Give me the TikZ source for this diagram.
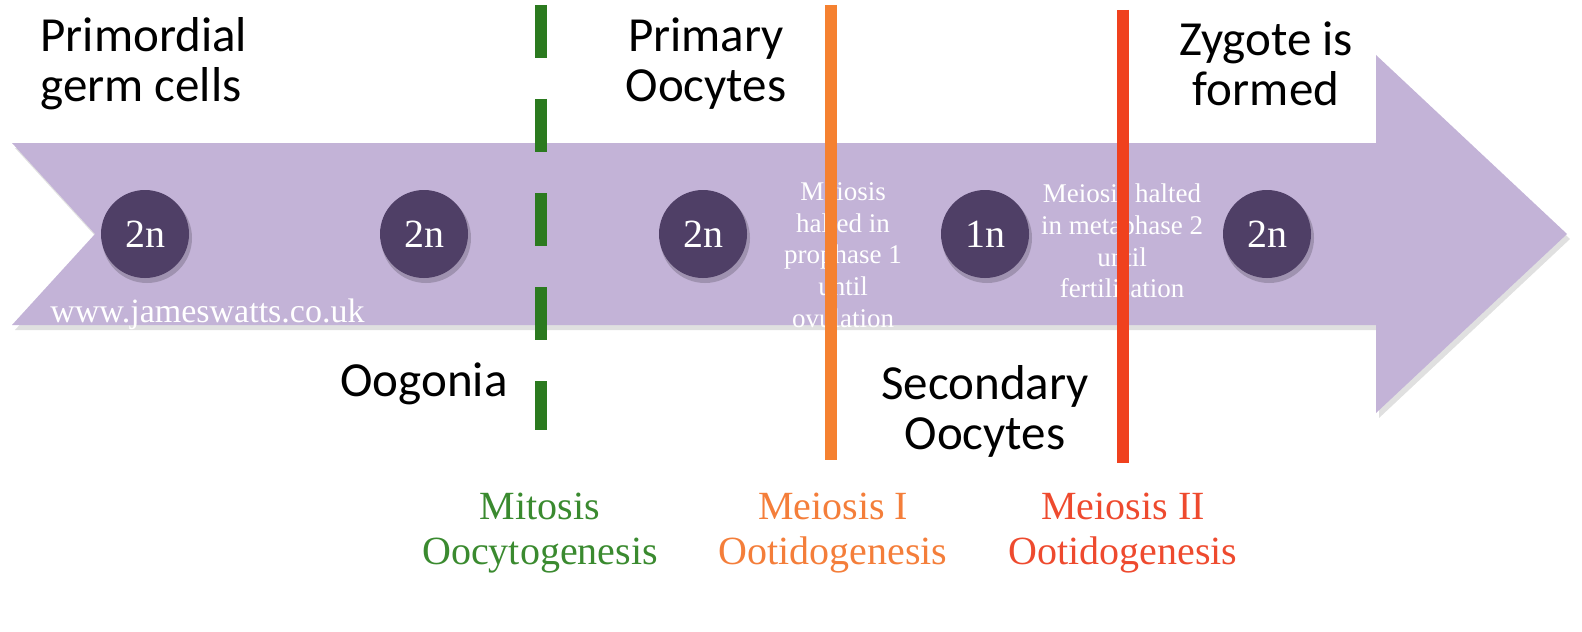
\documentclass[tikz,border=0pt]{standalone}
\usepackage{fontspec}
\setmainfont{Liberation Serif}
\newfontfamily\calib{Carlito}
\definecolor{arrowfill}{HTML}{C3B3D7}
\definecolor{cellfill}{HTML}{4F3F66}
\definecolor{mitgreen}{HTML}{2B7A1F}
\definecolor{meiorange}{HTML}{F58130}
\definecolor{meired}{HTML}{F0411E}
\definecolor{txtgreen}{HTML}{3A8A2F}
\definecolor{txtorange}{HTML}{F47E3A}
\definecolor{txtred}{HTML}{EE4A2E}
\begin{document}
\begin{tikzpicture}[x=0.5pt,y=-0.5pt,
  cell/.style={circle,fill=cellfill,minimum size=44pt,inner sep=0pt,text=white,font=\fontsize{20}{22}\selectfont},
  stage/.style={align=center,font=\calib\fontsize{24.5}{25}\selectfont,text=black,inner sep=0pt},
  phase/.style={align=center,font=\fontsize{20}{22.5}\selectfont,inner sep=0pt},
  note/.style={align=center,text=white,font=\fontsize{13.5}{15.8}\selectfont,inner sep=0pt},
  divline/.style={line width=6pt}]
\useasboundingbox (0,0) rectangle (1582,631);
% shadow
\fill[black!35,opacity=0.35] (15,148) -- (1379,148) -- (1379,60) -- (1570,239) -- (1379,418) -- (1379,330) -- (15,330) -- (98,239) -- cycle;
% arrow
\fill[arrowfill] (12,143) -- (1376,143) -- (1376,55) -- (1567,234) -- (1376,413) -- (1376,325) -- (12,325) -- (95,234) -- cycle;
% watermark
\node[text=white,font=\fontsize{17}{19}\selectfont,anchor=west,inner sep=0pt] (wm) at (50,314) {www.jameswatts.co.uk};
% cells
\foreach \n/\x/\t in {c1/145/2n,c2/424/2n,c3/703/2n,c4/985/1n,c5/1267/2n}{
  \fill[black,opacity=0.18] (\x+2,238) circle (45);
  \node[cell] (\n) at (\x,234) {\t};
}
% notes
\node[note] (n1) at (843,255) {Meiosis\\halted in\\prophase 1\\until\\ovulation};
\node[note] (n2) at (1122,241) {Meiosis halted\\in metaphase 2\\until\\fertilisation};
% dividing lines
\coordinate (gtop) at (541,5); \coordinate (gbot) at (541,430);
\coordinate (otop) at (831,5); \coordinate (obot) at (831,460);
\coordinate (rtop) at (1123,10); \coordinate (rbot) at (1123,463);
\draw[divline,mitgreen,dash pattern=on 26.5pt off 20.5pt] (gtop) -- (gbot);
\draw[divline,meiorange] (otop) -- (obot);
\draw[divline,meired] (rtop) -- (rbot);
% stage labels
\node[stage,align=left,anchor=west] (pgc) at (40,64) {Primordial\\germ cells};
\node[stage] (po) at (706,64) {Primary\\Oocytes};
\node[stage] (zy) at (1266,64) {Zygote is\\formed};
\node[stage] (oog) at (424,384) {Oogonia};
\node[stage] (so) at (985,411) {Secondary\\Oocytes};
% phase labels
\node[phase,text=txtgreen] (mit) at (540,533) {Mitosis\\Oocytogenesis};
\node[phase,text=txtorange] (m1) at (833,533) {Meiosis I\\Ootidogenesis};
\node[phase,text=txtred] (m2) at (1123,533) {Meiosis II\\Ootidogenesis};
\end{tikzpicture}
\end{document}
